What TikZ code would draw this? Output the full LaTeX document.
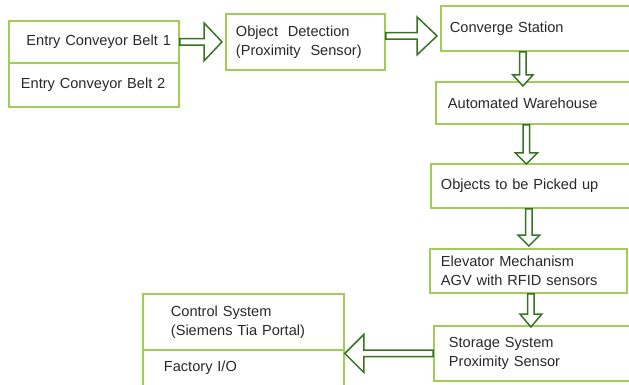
\documentclass[tikz,border=0pt]{standalone}
\usepackage{fontspec}
\setmainfont{Liberation Sans}
\usepackage{tikz}
\usetikzlibrary{calc}
\definecolor{boxgreen}{RGB}{160, 205, 85}
\definecolor{arrowgreen}{RGB}{55, 115, 35}
\definecolor{textgray}{RGB}{40, 40, 40}

% hollow block arrow: from, to, head length, head half width
\newcommand{\blockarrow}[4]{%
  \coordinate (ba) at ($(#2)!#3!(#1)$);
  \draw[barrow] ($(#1)!3.2pt!90:(#2)$) -- ($(ba)!3.2pt!-90:(#1)$) -- ($(ba)!#4!-90:(#1)$)
    -- (#2) -- ($(ba)!#4!90:(#1)$) -- ($(ba)!3.2pt!90:(#1)$) -- ($(#1)!3.2pt!-90:(#2)$) -- cycle;}

\begin{document}
\begin{tikzpicture}[
    x = 1pt, y = -1pt,
    box/.style = {draw = boxgreen, line width = 1.8pt, anchor = north west, inner xsep = 0pt, inner ysep = 0pt,
                  align = left, text = textgray, font = \fontsize{14.6}{19}\selectfont},
    barrow/.style = {draw = arrowgreen, fill = white, line width = 1.5pt, line join = miter},
]
\useasboundingbox (0,0) rectangle (629,385);

% left column
\node[box, minimum width = 170pt, minimum height = 42pt, text width = 154pt, align = right] (belt1) at (8,20) {Entry Conveyor Belt 1};
\node[box, minimum width = 170pt, minimum height = 44pt, text width = 146pt] (belt2) at (8,62) {Entry Conveyor Belt 2};
\node[box, minimum width = 159pt, minimum height = 56pt, text width = 139pt] (detect) at (225,13) {Object\ \ Detection\\(Proximity\ \ Sensor)};

% right column
\node[box, minimum width = 200pt, minimum height = 45pt, text width = 182pt] (converge) at (440,5) {Converge Station};
\node[box, minimum width = 200pt, minimum height = 42pt, text width = 176pt] (warehouse) at (435,81) {Automated Warehouse};
\node[box, minimum width = 210pt, minimum height = 44pt, text width = 190pt] (objects) at (430,163) {Objects to be Picked up};
\node[box, minimum width = 197pt, minimum height = 44pt, text width = 175pt] (elevator) at (429,248) {Elevator Mechanism\\AGV with RFID sensors};
\node[box, minimum width = 210pt, minimum height = 55pt, text width = 180pt] (storage) at (433,325) {Storage System\\Proximity Sensor};

% control
\node[box, minimum width = 201pt, minimum height = 56pt, text width = 145pt] (control) at (142,293) {Control System\\(Siemens Tia Portal)};
\node[box, minimum width = 201pt, text width = 159pt, text height = 21.5pt, text depth = 20pt] (factory) at (142,349) {Factory I/O};

% arrows
\coordinate (a1s) at (belt1.east);
\coordinate (a1e) at ([xshift=-3pt]detect.west |- a1s);
\blockarrow{a1s}{a1e}{18pt}{19pt}

\coordinate (a2s) at ([yshift=6pt]detect.east);
\coordinate (a2e) at ([xshift=-3pt]converge.west |- a2s);
\blockarrow{a2s}{a2e}{20pt}{19pt}

\coordinate (a3s) at ([xshift=-18pt]converge.south);
\coordinate (a3e) at ([yshift=-5pt]a3s |- warehouse.north);
\blockarrow{a3s}{a3e}{11pt}{10pt}

\coordinate (a4s) at ([xshift=-9.5pt]warehouse.south);
\coordinate (a4e) at ([yshift=-1pt]a4s |- objects.north);
\blockarrow{a4s}{a4e}{11pt}{11pt}

\coordinate (a5s) at ([xshift=-7pt]objects.south);
\coordinate (a5e) at ([yshift=2pt]a5s |- elevator.north);
\blockarrow{a5s}{a5e}{11pt}{11pt}

\coordinate (a6s) at ([xshift=2.5pt]elevator.south);
\coordinate (a6e) at ([yshift=-2pt]a6s |- storage.north);
\blockarrow{a6s}{a6e}{13pt}{11pt}

\coordinate (a7s) at (storage.west);
\coordinate (a7e) at (control.south east |- a7s);
\blockarrow{a7s}{a7e}{19pt}{19pt}

\end{tikzpicture}
\end{document}
